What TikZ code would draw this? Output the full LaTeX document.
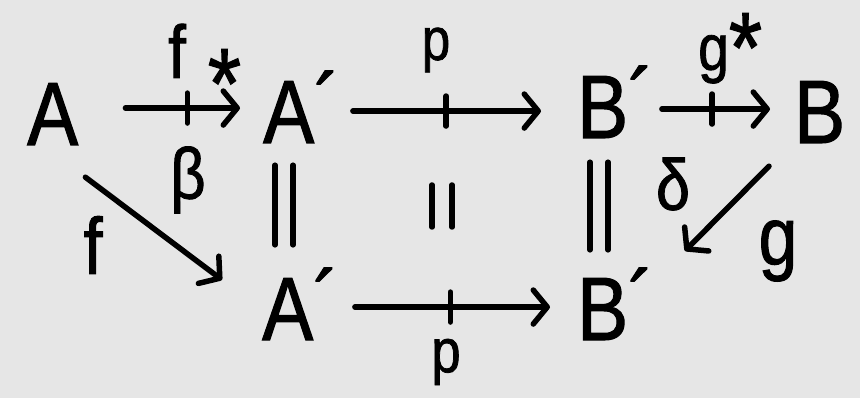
\documentclass[tikz,border=0pt]{standalone}
\usepackage{fontspec}
\setmainfont{Liberation Sans}[FakeStretch=0.85,FakeBold=1.2]
\usetikzlibrary{arrows.meta,decorations.markings}
\definecolor{bg}{HTML}{E6E6E6}
\newcommand\primemark{\smash{\raisebox{6pt}{´}}}
\begin{document}
\begin{tikzpicture}[x=1pt,y=-1pt,
  obj/.style={inner sep=0pt, anchor=base west, font=\fontsize{90}{90}\selectfont},
  lab/.style={inner sep=0pt, font=\fontsize{#1}{#1}\selectfont},
  lab/.default=64,
  mor/.style={line width=5.5pt, line cap=round, line join=round,
    -{Straight Barb[length=14pt,width=34pt,line cap=round,line join=round]}},
  eqline/.style={line width=5.5pt, line cap=round},
  crossmark/.style={postaction={decorate,decoration={markings,
    mark=at position #1 with {\draw[line width=5.5pt,line cap=round,-,shorten <=0pt,shorten >=0pt] (0pt,-15pt)--(0pt,15pt);}}}}
]
\fill[bg] (0,0) rectangle (860,398);
\useasboundingbox (0,0) rectangle (860,398);

% objects
\node[obj] (A)  at (27,145)  {A};
\node[obj] (A1) at (263,143) {A\primemark};
\node[obj] (B1) at (577,138) {B\primemark};
\node[obj] (B)  at (794,143) {B};
\node[obj] (A2) at (262,340) {A\primemark};
\node[obj] (B2) at (577,340) {B\primemark};

% horizontal morphisms
\draw[mor, crossmark=0.59, shorten <=47pt, shorten >=23pt]
  ([yshift=6pt]A.east) -- ([yshift=6pt]A.east -| A1.west);
\draw[mor, crossmark=0.448, shorten <=13pt, shorten >=36pt]
  ([yshift=1pt]A1.east) -- ([yshift=1pt]A1.east -| B1.west);
\draw[mor, crossmark=0.416, shorten <=8pt, shorten >=24pt]
  ([yshift=-2pt]B1.east) -- ([yshift=-2pt]B1.east -| B.west);
\draw[mor, crossmark=0.468, shorten <=16pt, shorten >=27pt]
  ([yshift=2pt]A2.east) -- ([yshift=2pt]A2.east -| B2.west);

% diagonal morphisms
\draw[mor] ([xshift=7pt,yshift=-32pt]A.south east) -- ([xshift=-40pt,yshift=-2pt]A2.north west);
\draw[mor] ([xshift=-25pt,yshift=-23pt]B.south west) -- ([xshift=31pt,yshift=27pt]B2.north east);

% equalities
\draw[eqline] ([xshift=12pt,yshift=-22pt]A1.south west) -- ([xshift=13pt,yshift=33pt]A2.north west);
\draw[eqline] ([xshift=30pt,yshift=-22pt]A1.south west) -- ([xshift=31pt,yshift=33pt]A2.north west);
\draw[eqline] ([xshift=13pt,yshift=-24pt]B1.south west) -- ([xshift=13pt,yshift=28pt]B2.north west);
\draw[eqline] ([xshift=31pt,yshift=-24pt]B1.south west) -- ([xshift=31pt,yshift=28pt]B2.north west);
% identity 2-cell in the middle square
\coordinate (eqc) at (442,206);
\draw[eqline] ([xshift=-10pt,yshift=21pt]eqc) -- ([xshift=-10pt,yshift=-21pt]eqc);
\draw[eqline] ([xshift=10pt,yshift=21pt]eqc) -- ([xshift=10pt,yshift=-21pt]eqc);

% labels
\node[lab=75, anchor=base west] (lfs) at (168,78) {f\hspace{22pt}\raisebox{-40pt}{\fontsize{100}{100}\selectfont *}};
\node[lab=60] (lp1) at (436,50) {p};
\node[lab=65, anchor=base west] (lgs) at (698,70) {g\raisebox{-12pt}{\fontsize{100}{100}\selectfont *}};
\node[lab=72] (lb) at (188,180) {β};
\node[lab=80] (lf) at (93,245) {f};
\node[lab=72] (ld) at (673,184) {δ};
\node[lab=82] (lg) at (778,251) {g};
\node[lab=62] (lp2) at (446,362) {p};
\end{tikzpicture}
\end{document}
